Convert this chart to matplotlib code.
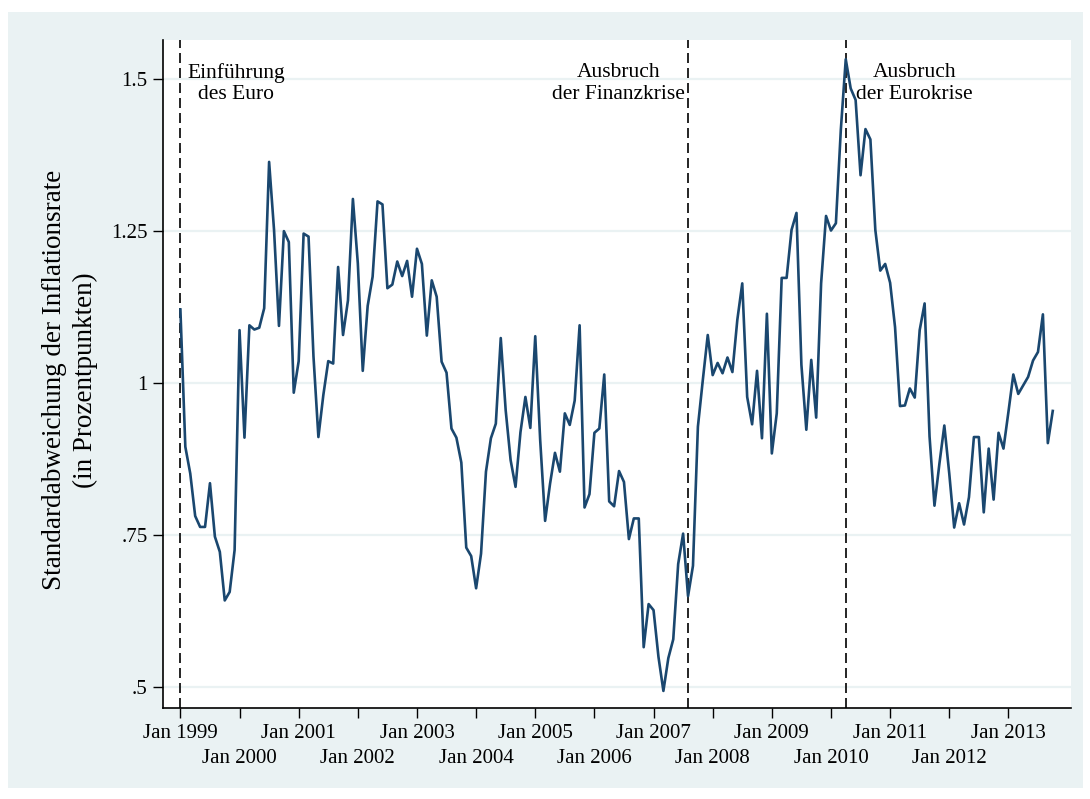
import matplotlib
matplotlib.use('Agg')
import matplotlib.pyplot as plt
from matplotlib.patches import Rectangle

plt.rcParams['font.family'] = ['Liberation Serif', 'DejaVu Serif']

# monthly std. deviation of inflation, Jan 1999 .. Oct 2013
start_year = 1999
sd = [1.121, 0.895, 0.851, 0.781, 0.763, 0.763, 0.835, 0.747, 0.722, 0.642, 0.656, 0.725,
      1.087, 0.910, 1.095, 1.088, 1.091, 1.123, 1.364, 1.252, 1.094, 1.250, 1.232, 0.984,
      1.036, 1.246, 1.241, 1.044, 0.911, 0.980, 1.036, 1.032, 1.191, 1.079, 1.136, 1.303,
      1.197, 1.020, 1.127, 1.175, 1.299, 1.294, 1.156, 1.162, 1.200, 1.176, 1.201, 1.142,
      1.221, 1.196, 1.078, 1.169, 1.142, 1.035, 1.017, 0.925, 0.910, 0.869, 0.729, 0.715,
      0.662, 0.719, 0.854, 0.909, 0.933, 1.074, 0.955, 0.873, 0.829, 0.919, 0.977, 0.926,
      1.077, 0.906, 0.773, 0.834, 0.885, 0.854, 0.950, 0.931, 0.971, 1.095, 0.795, 0.817,
      0.918, 0.925, 1.014, 0.805, 0.797, 0.855, 0.837, 0.743, 0.777, 0.777, 0.565, 0.636,
      0.626, 0.549, 0.493, 0.547, 0.578, 0.702, 0.752, 0.649, 0.699, 0.928, 1.005, 1.079,
      1.013, 1.033, 1.016, 1.042, 1.018, 1.104, 1.164, 0.977, 0.932, 1.020, 0.909, 1.114,
      0.884, 0.950, 1.173, 1.173, 1.252, 1.280, 1.030, 0.923, 1.038, 0.943, 1.164, 1.275,
      1.251, 1.263, 1.417, 1.533, 1.485, 1.466, 1.342, 1.418, 1.401, 1.252, 1.185, 1.196,
      1.165, 1.092, 0.962, 0.963, 0.991, 0.976, 1.087, 1.131, 0.912, 0.798, 0.867, 0.930,
      0.851, 0.762, 0.802, 0.767, 0.812, 0.911, 0.911, 0.787, 0.892, 0.808, 0.918, 0.892,
      0.952, 1.014, 0.982, 0.996, 1.010, 1.037, 1.051, 1.113, 0.901, 0.954]

events = [(1999, 1), (2007, 8), (2010, 4)]
event_text = ['Einführung\ndes Euro', 'Ausbruch\nder Finanzkrise', 'Ausbruch\nder Eurokrise']
text_pos = [11.3, 88.9, 148.9]   # month index of the text centres

years = list(range(1999, 2014))
yticks = [0.5, 0.75, 1.0, 1.25, 1.5]
ytick_labels = ['.5', '.75', '1', '1.25', '1.5']

navy = '#1A476F'
bg = '#EAF2F3'

months = list(range(len(sd)))

fig = plt.figure(figsize=(10.9, 7.99), dpi=100, facecolor='white')
fig.patches.append(Rectangle((8 / 1090, 1 - 788 / 799), 1075 / 1090, 776 / 799,
                             transform=fig.transFigure, facecolor=bg, edgecolor='none',
                             zorder=-10))
ax = fig.add_axes([162.7 / 1090, 1 - 708.3 / 799, 907.8 / 1090, 668.3 / 799])
ax.set_facecolor('white')

for v in yticks:
    ax.axhline(v, color=bg, lw=1.6, zorder=1)

ax.plot(months, sd, color=navy, lw=1.9, zorder=3)

for (yr, mo) in events:
    m = (yr - start_year) * 12 + (mo - 1)
    ax.axvline(m, color='black', lw=1.2, ls=(0, (6, 3)), zorder=2)

for xt, t in zip(text_pos, event_text):
    ax.text(xt, 1.493, t, ha='center', va='center', fontsize=15.5, linespacing=1.15, zorder=4)

ax.set_xlim(-3.59, 180.6)
ax.set_ylim(0.4644, 1.5647)

# alternating label rows: first row as major ticks, second row as minor ticks
xt = [(y - start_year) * 12 for y in years]
xl = ['Jan %d' % y for y in years]
ax.set_xticks(xt[0::2])
ax.set_xticklabels(xl[0::2], fontsize=15)
ax.set_xticks(xt[1::2], minor=True)
ax.set_xticklabels(xl[1::2], minor=True, fontsize=15)
ax.set_yticks(yticks)
ax.set_yticklabels(ytick_labels, fontsize=15)
ax.tick_params(axis='both', which='both', length=7, width=1, direction='out', colors='black')
ax.tick_params(axis='x', which='major', pad=4)
ax.tick_params(axis='x', which='minor', pad=22)
ax.tick_params(axis='y', pad=4)

ax.set_ylabel('Standardabweichung der Inflationsrate\n(in Prozentpunkten)', fontsize=19.5,
              linespacing=1.3)
ax.yaxis.set_label_coords(-0.071, 0.491)

for s in ['top', 'right']:
    ax.spines[s].set_visible(False)
for s in ['left', 'bottom']:
    ax.spines[s].set_linewidth(1.2)

fig.savefig('out.png', dpi=100, facecolor=fig.get_facecolor())
